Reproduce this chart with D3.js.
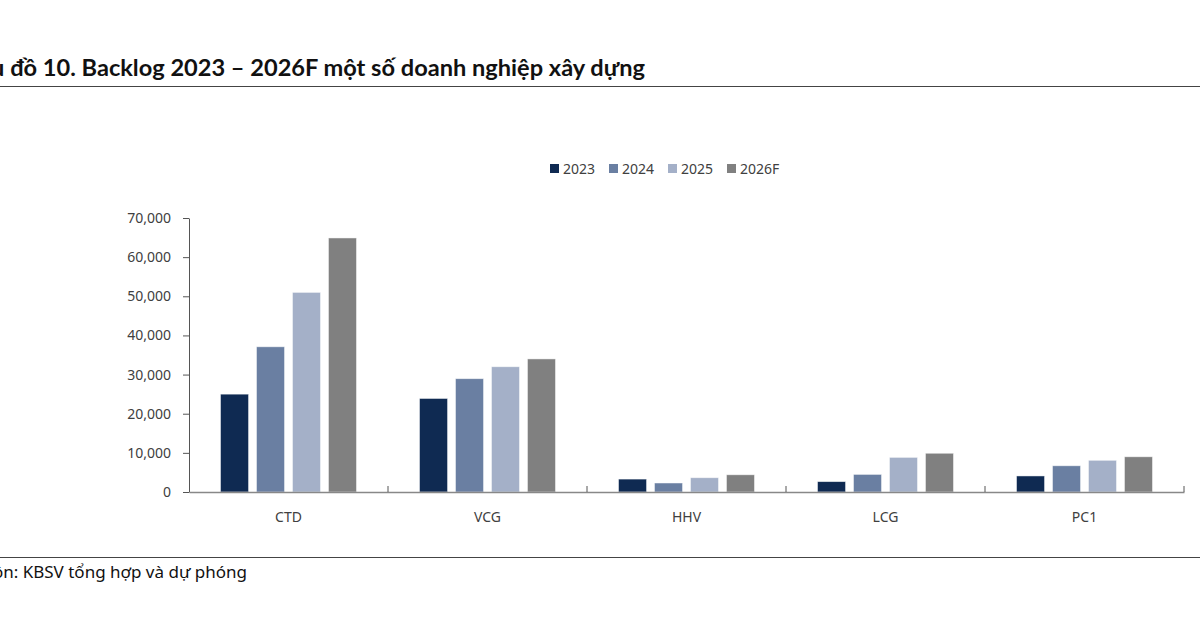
<!DOCTYPE html>
<html>
<head>
<meta charset="utf-8">
<script src="https://cdn.jsdelivr.net/npm/d3@7"></script>
<style>
  body { margin: 0; background: #fff; }
  svg { display: block; }
</style>
</head>
<body>
<svg id="chart" width="1200" height="630"></svg>
<script>
// chart data
const companies = ["CTD", "VCG", "HHV", "LCG", "PC1"];
const years = ["2023", "2024", "2025", "2026F"];
const backlog2023 = [25000, 23900, 3300, 2650, 4100];
const backlog2024 = [37100, 28950, 2300, 4500, 6700];
const backlog2025 = [51000, 32000, 3650, 8850, 8100];
const backlog2026F = [64900, 34000, 4400, 9900, 9000];
const yTicks = [0, 10000, 20000, 30000, 40000, 50000, 60000, 70000];
const colors = ["#0f2a52", "#6a7fa2", "#a4b0c8", "#808080"];

const titleText = "Biểu đồ 10. Backlog 2023 – 2026F một số doanh nghiệp xây dựng";
const sourceText = "Nguồn: KBSV tổng hợp và dự phóng";

const series = [backlog2023, backlog2024, backlog2025, backlog2026F];

const svg = d3.select("#chart");
const font = "'Noto Sans', sans-serif";

// Title (left part is cut off by the page edge, as in the original)
svg.append("text")
    .attr("x", 645)
    .attr("y", 76)
    .attr("text-anchor", "end")
    .style("font-family", "Lato, 'Noto Sans', sans-serif")
    .style("font-weight", "bold")
    .style("font-size", "23.6px")
    .style("fill", "#111")
    .text(titleText);

svg.append("line")
    .attr("x1", 0).attr("x2", 1200)
    .attr("y1", 86.5).attr("y2", 86.5)
    .style("stroke", "#444").style("stroke-width", 1);

svg.append("line")
    .attr("x1", 0).attr("x2", 1200)
    .attr("y1", 557.5).attr("y2", 557.5)
    .style("stroke", "#444").style("stroke-width", 1);

svg.append("text")
    .attr("x", 247)
    .attr("y", 578)
    .attr("text-anchor", "end")
    .style("font-family", font)
    .style("font-size", "17px")
    .style("fill", "#111")
    .text(sourceText);

// Scales
const x0 = d3.scaleBand().domain(companies).range([189, 1184]);
const x1 = d3.scaleBand().domain(years)
    .range([31.5, x0.bandwidth() - 31.5])
    .paddingInner(0.22);
const y = d3.scaleLinear().domain([0, 70000]).range([492, 218]);

// Bars
const groups = svg.append("g").selectAll("g")
    .data(companies)
    .join("g")
    .attr("transform", d => `translate(${x0(d)},0)`);

groups.selectAll("rect")
    .data((d, i) => years.map((yr, k) => ({ yr, k, v: series[k][i] })))
    .join("rect")
    .attr("x", d => x1(d.yr))
    .attr("y", d => y(d.v))
    .attr("width", x1.bandwidth())
    .attr("height", d => y(0) - y(d.v))
    .style("fill", d => colors[d.k])
    .style("stroke", "#fff")
    .style("stroke-opacity", 0.6)
    .style("stroke-width", 0.8);

// Y axis
const yAxis = svg.append("g")
    .attr("transform", "translate(189,0)")
    .call(d3.axisLeft(y).tickValues(yTicks).tickFormat(d3.format(",")).tickSize(6).tickSizeOuter(0));
yAxis.select(".domain").style("stroke", "#555");
yAxis.selectAll(".tick line").style("stroke", "#555");
yAxis.selectAll(".tick text")
    .attr("x", -18)
    .style("font-family", font)
    .style("font-size", "14px")
    .style("fill", "#404040");

// X axis
const xAxis = svg.append("g")
    .attr("transform", `translate(0,${y(0)})`)
    .call(d3.axisBottom(x0).tickSize(0).tickSizeOuter(0));
xAxis.select(".domain").style("stroke", "#888").style("stroke-width", 1.5);
xAxis.selectAll(".tick text")
    .attr("dy", "1.9em")
    .style("font-family", font)
    .style("font-size", "14px")
    .style("fill", "#404040");

// category separator ticks
svg.append("g").selectAll("line")
    .data(companies.slice(1).concat(["__end"]))
    .join("line")
    .attr("x1", d => d === "__end" ? x0.range()[1] : x0(d))
    .attr("x2", d => d === "__end" ? x0.range()[1] : x0(d))
    .attr("y1", y(0) - 6)
    .attr("y2", y(0))
    .style("stroke", "#555");

// Legend
const legend = svg.append("g").selectAll("g")
    .data(years)
    .join("g")
    .attr("transform", (d, i) => `translate(${[550, 609, 668, 727][i]},164)`);
legend.append("rect")
    .attr("width", 9).attr("height", 9)
    .style("fill", (d, i) => colors[i]);
legend.append("text")
    .attr("x", 13).attr("y", 10)
    .style("font-family", font)
    .style("font-size", "14px")
    .style("fill", "#404040")
    .text(d => d);
</script>
</body>
</html>
